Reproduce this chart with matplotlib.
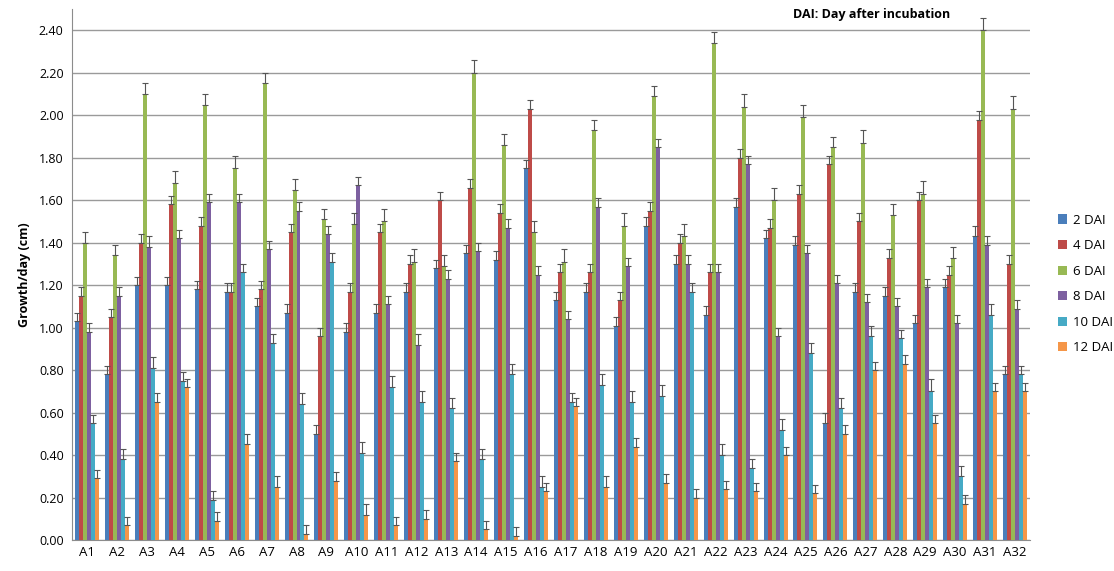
import matplotlib
matplotlib.use('Agg')
import matplotlib.pyplot as plt
import numpy as np

plt.rcParams['font.family'] = ['Open Sans', 'DejaVu Sans']

isolates = ['A' + str(i) for i in range(1, 33)]
series_names = ['2 DAI', '4 DAI', '6 DAI', '8 DAI', '10 DAI', '12 DAI']
colors = ['#4A7EBB', '#BE4B48', '#98B954', '#7D60A0', '#46AAC5', '#F59648']

dai2 = [1.03, 0.78, 1.20, 1.20, 1.18, 1.17, 1.10, 1.07, 0.50, 0.98, 1.07, 1.17, 1.28, 1.35, 1.32, 1.75,
        1.13, 1.17, 1.01, 1.48, 1.30, 1.06, 1.57, 1.42, 1.39, 0.55, 1.17, 1.15, 1.02, 1.19, 1.43, 0.78]
dai4 = [1.15, 1.05, 1.40, 1.58, 1.48, 1.17, 1.18, 1.45, 0.96, 1.17, 1.45, 1.30, 1.60, 1.66, 1.54, 2.03,
        1.26, 1.26, 1.13, 1.55, 1.40, 1.26, 1.80, 1.47, 1.63, 1.77, 1.50, 1.33, 1.60, 1.25, 1.98, 1.30]
dai6 = [1.40, 1.34, 2.10, 1.68, 2.05, 1.75, 2.15, 1.65, 1.51, 1.49, 1.50, 1.31, 1.29, 2.20, 1.86, 1.45,
        1.31, 1.93, 1.48, 2.09, 1.43, 2.34, 2.04, 1.60, 1.99, 1.85, 1.87, 1.53, 1.63, 1.33, 2.40, 2.03]
dai8 = [0.98, 1.15, 1.38, 1.42, 1.59, 1.59, 1.37, 1.55, 1.44, 1.67, 1.11, 0.92, 1.23, 1.36, 1.47, 1.25,
        1.04, 1.57, 1.29, 1.85, 1.30, 1.26, 1.77, 0.96, 1.35, 1.21, 1.12, 1.10, 1.19, 1.02, 1.39, 1.09]
dai10 = [0.55, 0.38, 0.81, 0.75, 0.19, 1.26, 0.93, 0.64, 1.31, 0.41, 0.72, 0.65, 0.62, 0.38, 0.78, 0.25,
         0.65, 0.73, 0.65, 0.68, 1.17, 0.40, 0.34, 0.52, 0.88, 0.62, 0.96, 0.95, 0.70, 0.30, 1.06, 0.78]
dai12 = [0.29, 0.07, 0.65, 0.72, 0.09, 0.45, 0.25, 0.03, 0.28, 0.12, 0.07, 0.10, 0.37, 0.05, 0.02, 0.23,
         0.63, 0.25, 0.44, 0.27, 0.20, 0.24, 0.23, 0.40, 0.22, 0.50, 0.80, 0.83, 0.55, 0.17, 0.70, 0.70]

err2 = [0.04, 0.04, 0.04, 0.04, 0.04, 0.04, 0.04, 0.04, 0.04, 0.04, 0.04, 0.04, 0.04, 0.04, 0.04, 0.04,
        0.04, 0.04, 0.04, 0.04, 0.04, 0.04, 0.04, 0.04, 0.04, 0.05, 0.04, 0.04, 0.04, 0.04, 0.05, 0.04]
err4 = [0.04, 0.04, 0.04, 0.04, 0.04, 0.04, 0.04, 0.04, 0.04, 0.04, 0.04, 0.04, 0.04, 0.04, 0.04, 0.04,
        0.04, 0.04, 0.04, 0.04, 0.04, 0.04, 0.04, 0.04, 0.04, 0.04, 0.04, 0.04, 0.04, 0.04, 0.04, 0.04]
err6 = [0.05, 0.05, 0.05, 0.06, 0.05, 0.06, 0.05, 0.05, 0.05, 0.05, 0.06, 0.06, 0.05, 0.06, 0.05, 0.05,
        0.06, 0.05, 0.06, 0.05, 0.06, 0.05, 0.06, 0.06, 0.06, 0.05, 0.06, 0.05, 0.06, 0.05, 0.06, 0.06]
err8 = [0.04, 0.04, 0.05, 0.04, 0.04, 0.04, 0.04, 0.04, 0.04, 0.04, 0.04, 0.05, 0.04, 0.04, 0.04, 0.04,
        0.04, 0.04, 0.04, 0.04, 0.04, 0.04, 0.04, 0.04, 0.04, 0.04, 0.04, 0.04, 0.04, 0.04, 0.04, 0.04]
err10 = [0.04, 0.05, 0.05, 0.04, 0.04, 0.04, 0.04, 0.05, 0.04, 0.05, 0.05, 0.05, 0.05, 0.05, 0.05, 0.05,
         0.04, 0.05, 0.05, 0.05, 0.04, 0.05, 0.04, 0.05, 0.05, 0.05, 0.05, 0.04, 0.06, 0.05, 0.05, 0.04]
err12 = [0.04, 0.04, 0.04, 0.04, 0.04, 0.05, 0.05, 0.04, 0.04, 0.05, 0.04, 0.04, 0.04, 0.04, 0.04, 0.04,
         0.04, 0.05, 0.04, 0.04, 0.04, 0.04, 0.04, 0.04, 0.04, 0.04, 0.04, 0.04, 0.04, 0.04, 0.04, 0.04]

values = [dai2, dai4, dai6, dai8, dai10, dai12]
errors = [err2, err4, err6, err8, err10, err12]

fig = plt.figure(figsize=(11.14, 5.71), dpi=100)
ax = fig.add_axes([0.0646, 0.0543, 0.86, 0.9297])

x = np.arange(len(isolates))
group_width = 0.8
bar_w = group_width / len(series_names)
for i, (vals, errs, name, c) in enumerate(zip(values, errors, series_names, colors)):
    pos = x - group_width / 2 + bar_w * (i + 0.5)
    ax.bar(pos, vals, width=bar_w, color=c, label=name, zorder=3, linewidth=0)
    ax.errorbar(pos, vals, yerr=[np.zeros(len(vals)), errs], fmt='none',
                ecolor='#555555', elinewidth=0.8, capsize=2.2, capthick=0.8, zorder=4)

ax.set_xlim(-0.5, len(isolates) - 0.5)
ax.set_ylim(0, 2.5)
ax.set_yticks(np.arange(0, 2.41, 0.2))
ax.set_yticklabels(['%.2f' % v for v in np.arange(0, 2.41, 0.2)], fontsize=9)
ax.set_xticks(x)
ax.set_xticklabels(isolates, fontsize=9.5)
ax.tick_params(axis='both', length=0, pad=6)
ax.tick_params(axis='x', pad=4)

ax.yaxis.grid(True, color='#9a9a9a', linewidth=1.0, zorder=0)
ax.set_axisbelow(True)
for s in ['top', 'right']:
    ax.spines[s].set_visible(False)
ax.spines['left'].set_color('#8c8c8c')
ax.spines['bottom'].set_color('#8c8c8c')

ax.set_ylabel('Growth/day (cm)', fontsize=9, fontweight='bold', labelpad=6)

fig.text(0.782, 0.975, 'DAI: Day after incubation', fontsize=9, fontweight='bold',
         ha='center', va='center')

fig.legend(loc='upper left', bbox_to_anchor=(0.945, 0.635), frameon=False,
           fontsize=9.5, handlelength=0.7, handleheight=0.7, handletextpad=0.45,
           labelspacing=0.95, borderaxespad=0)

fig.savefig('out.png', dpi=100)
